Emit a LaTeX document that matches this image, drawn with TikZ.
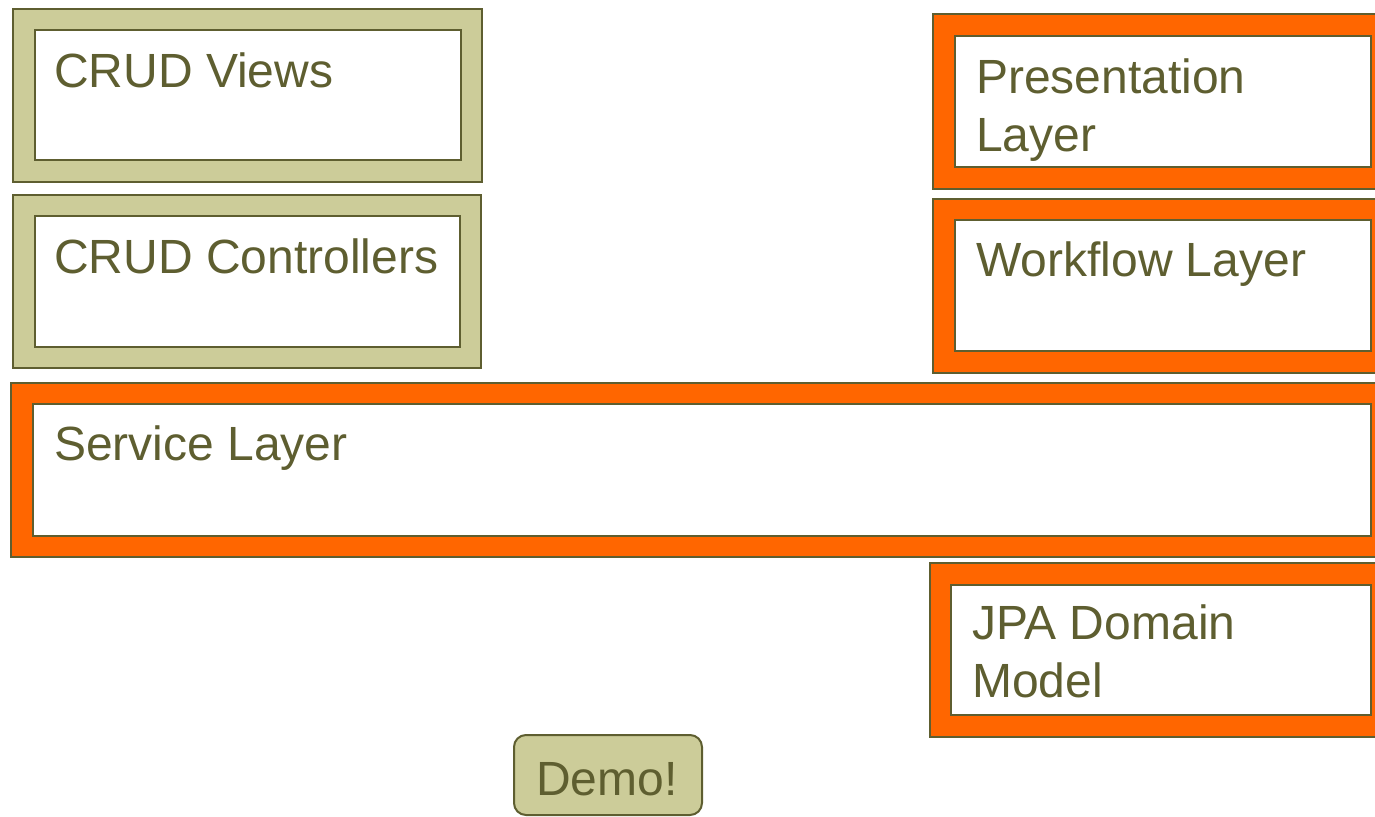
\documentclass[tikz,border=0pt]{standalone}
\usepackage{fontspec}
\setmainfont{Liberation Sans}
\definecolor{olive}{HTML}{5E5E30}
\definecolor{tan}{HTML}{CCCC99}
\definecolor{layerorange}{HTML}{FF6600}
\tikzset{
  frame/.style={draw=olive, line width=2pt, inner sep=0pt, anchor=north west},
  tanframe/.style={frame, fill=tan},
  orangeframe/.style={frame, fill=layerorange},
  panel/.style={frame, fill=white},
  label/.style={anchor=base west, inner sep=0pt, text=olive, font=\fontsize{48}{58}\selectfont, align=left},
}
\begin{document}
\begin{tikzpicture}[x=1pt, y=-1pt]
\useasboundingbox (0,0) rectangle (1375,816);
\clip (0,0) rectangle (1375,816);

% left-hand CRUD blocks
\node[tanframe, minimum width=469pt, minimum height=173pt] (viewsO) at (12,8) {};
\node[panel, minimum width=426pt, minimum height=130pt] (viewsI) at (34,29) {};
\node[label] (viewsT) at (54,87) {CRUD Views};

\node[tanframe, minimum width=468pt, minimum height=173pt] (ctrlO) at (12,194) {};
\node[panel, minimum width=425pt, minimum height=131pt] (ctrlI) at (34,215) {};
\node[label] (ctrlT) at (54,273) {CRUD Controllers};

% right-hand layers (base anchor sits on the last line)
\node[orangeframe, minimum width=470pt, minimum height=175pt] (presO) at (932,13) {};
\node[panel, minimum width=416pt, minimum height=131pt] (presI) at (954,35) {};
\node[label] (presT) at (976,151) {Presentation\\Layer};

\node[orangeframe, minimum width=470pt, minimum height=174pt] (wfO) at (932,198) {};
\node[panel, minimum width=416pt, minimum height=131pt] (wfI) at (954,219) {};
\node[label] (wfT) at (976,276) {Workflow Layer};

% service layer across the full width
\node[orangeframe, minimum width=1400pt, minimum height=174pt] (svcO) at (10,382) {};
\node[panel, minimum width=1338pt, minimum height=132pt] (svcI) at (32,403) {};
\node[label] (svcT) at (54,460) {Service Layer};

% domain model
\node[orangeframe, minimum width=470pt, minimum height=174pt] (jpaO) at (929,562) {};
\node[panel, minimum width=420pt, minimum height=130pt] (jpaI) at (950,584) {};
\node[label] (jpaT) at (972,697) {JPA Domain\\Model};

% demo button
\node[draw=olive, line width=2pt, fill=tan, rounded corners=12pt, inner sep=0pt,
      minimum width=188pt, minimum height=80pt, anchor=north west] (demo) at (513,734) {};
\node[anchor=base, inner sep=0pt, text=olive, font=\fontsize{48}{58}\selectfont] (demoT) at (607,795) {Demo!};
\end{tikzpicture}
\end{document}
